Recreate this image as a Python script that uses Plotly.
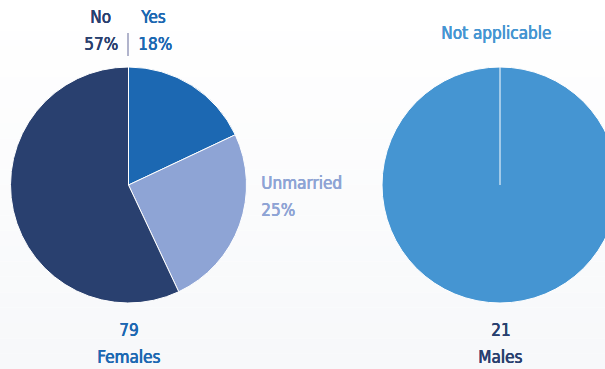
import plotly.graph_objects as go

# Data
female_labels = ["Yes", "Unmarried", "No"]
female_values = [18, 25, 57]
female_colors = ["#1c68b2", "#8ea4d5", "#29406f"]
male_labels = ["Not applicable"]
male_values = [100]
male_colors = ["#4595d2"]
group_names = ["Females", "Males"]
group_counts = [79, 21]

W, H = 640, 369
FONT = "Liberation Sans Narrow, DejaVu Sans Condensed, Arial Narrow, sans-serif"

def px(x):
    return x / W

def py(y):
    return 1 - y / H

# pie geometry in pixels (center x, center y, radius)
pies = [(128.5, 185, 118), (500, 185, 118)]

def domain(cx, cy, r):
    return dict(x=[px(cx - r), px(cx + r)], y=[py(cy + r), py(cy - r)])

fig = go.Figure()
fig.add_trace(go.Pie(
    labels=female_labels, values=female_values, sort=False, direction="clockwise",
    rotation=0, marker=dict(colors=female_colors, line=dict(color="white", width=1)),
    textinfo="none", hoverinfo="label+percent", domain=domain(*pies[0]),
    showlegend=False,
))
fig.add_trace(go.Pie(
    labels=male_labels, values=male_values, sort=False, direction="clockwise",
    rotation=0, marker=dict(colors=male_colors, line=dict(color="white", width=1)),
    textinfo="none", hoverinfo="label+percent", domain=domain(*pies[1]),
    showlegend=False,
))

# soft vertical background gradient
shapes = []
bands = 24
for i in range(bands):
    t = i / (bands - 1)
    c = (int(round(255 - 8 * t)), int(round(255 - 7 * t)), int(round(255 - 5 * t)))
    shapes.append(dict(type="rect", xref="paper", yref="paper", layer="below",
                       x0=0, x1=1, y0=1 - (i + 1) / bands, y1=1 - i / bands,
                       fillcolor="rgb(%d,%d,%d)" % c, line=dict(width=0)))

# divider between the No / Yes labels
shapes.append(dict(type="line", xref="paper", yref="paper",
                   x0=px(128), x1=px(128), y0=py(33), y1=py(56),
                   line=dict(color="#7d82aa", width=1.2)))
# seam of the single-slice pie
mcx, mcy, mr = pies[1]
shapes.append(dict(type="line", xref="paper", yref="paper", layer="above",
                   x0=px(mcx), x1=px(mcx), y0=py(mcy), y1=py(mcy - mr),
                   line=dict(color="white", width=1)))

def note(text, x, y, color, anchor="center"):
    # a same-colour shadow gives the book face a medium-weight look
    shadow = "0.6px 0 0 %s, 0.3px 0.2px 0 %s" % (color, color)
    return dict(text=text, x=px(x), y=py(y), xref="paper", yref="paper",
                showarrow=False, xanchor=anchor, yanchor="middle",
                font=dict(family=FONT, size=17, color=color, shadow=shadow))

navy, mid, light, sky = female_colors[2], female_colors[0], female_colors[1], male_colors[0]
annotations = [
    note(female_labels[2], 100, 17, navy),
    note(female_labels[0], 152, 17, mid),
    note(f"{female_values[2]}%", 101, 44, navy),
    note(f"{female_values[0]}%", 155, 44, mid),
    note(female_labels[1], 259, 183, light, "left"),
    note(f"{female_values[1]}%", 259, 210, light, "left"),
    note(male_labels[0], 496, 33, sky),
    note(str(group_counts[0]), 128, 330, mid),
    note(group_names[0], 128, 357, mid),
    note(str(group_counts[1]), 500, 330, navy),
    note(group_names[1], 500, 357, navy),
]

fig.update_layout(
    width=W, height=H, margin=dict(l=0, r=0, t=0, b=0),
    paper_bgcolor="#ffffff", plot_bgcolor="#ffffff",
    shapes=shapes, annotations=annotations,
)

fig.write_html(
    "out.html",
    config=dict(displayModeBar=False),
    post_script="document.body.style.margin='0';document.body.style.overflow='hidden';",
)
